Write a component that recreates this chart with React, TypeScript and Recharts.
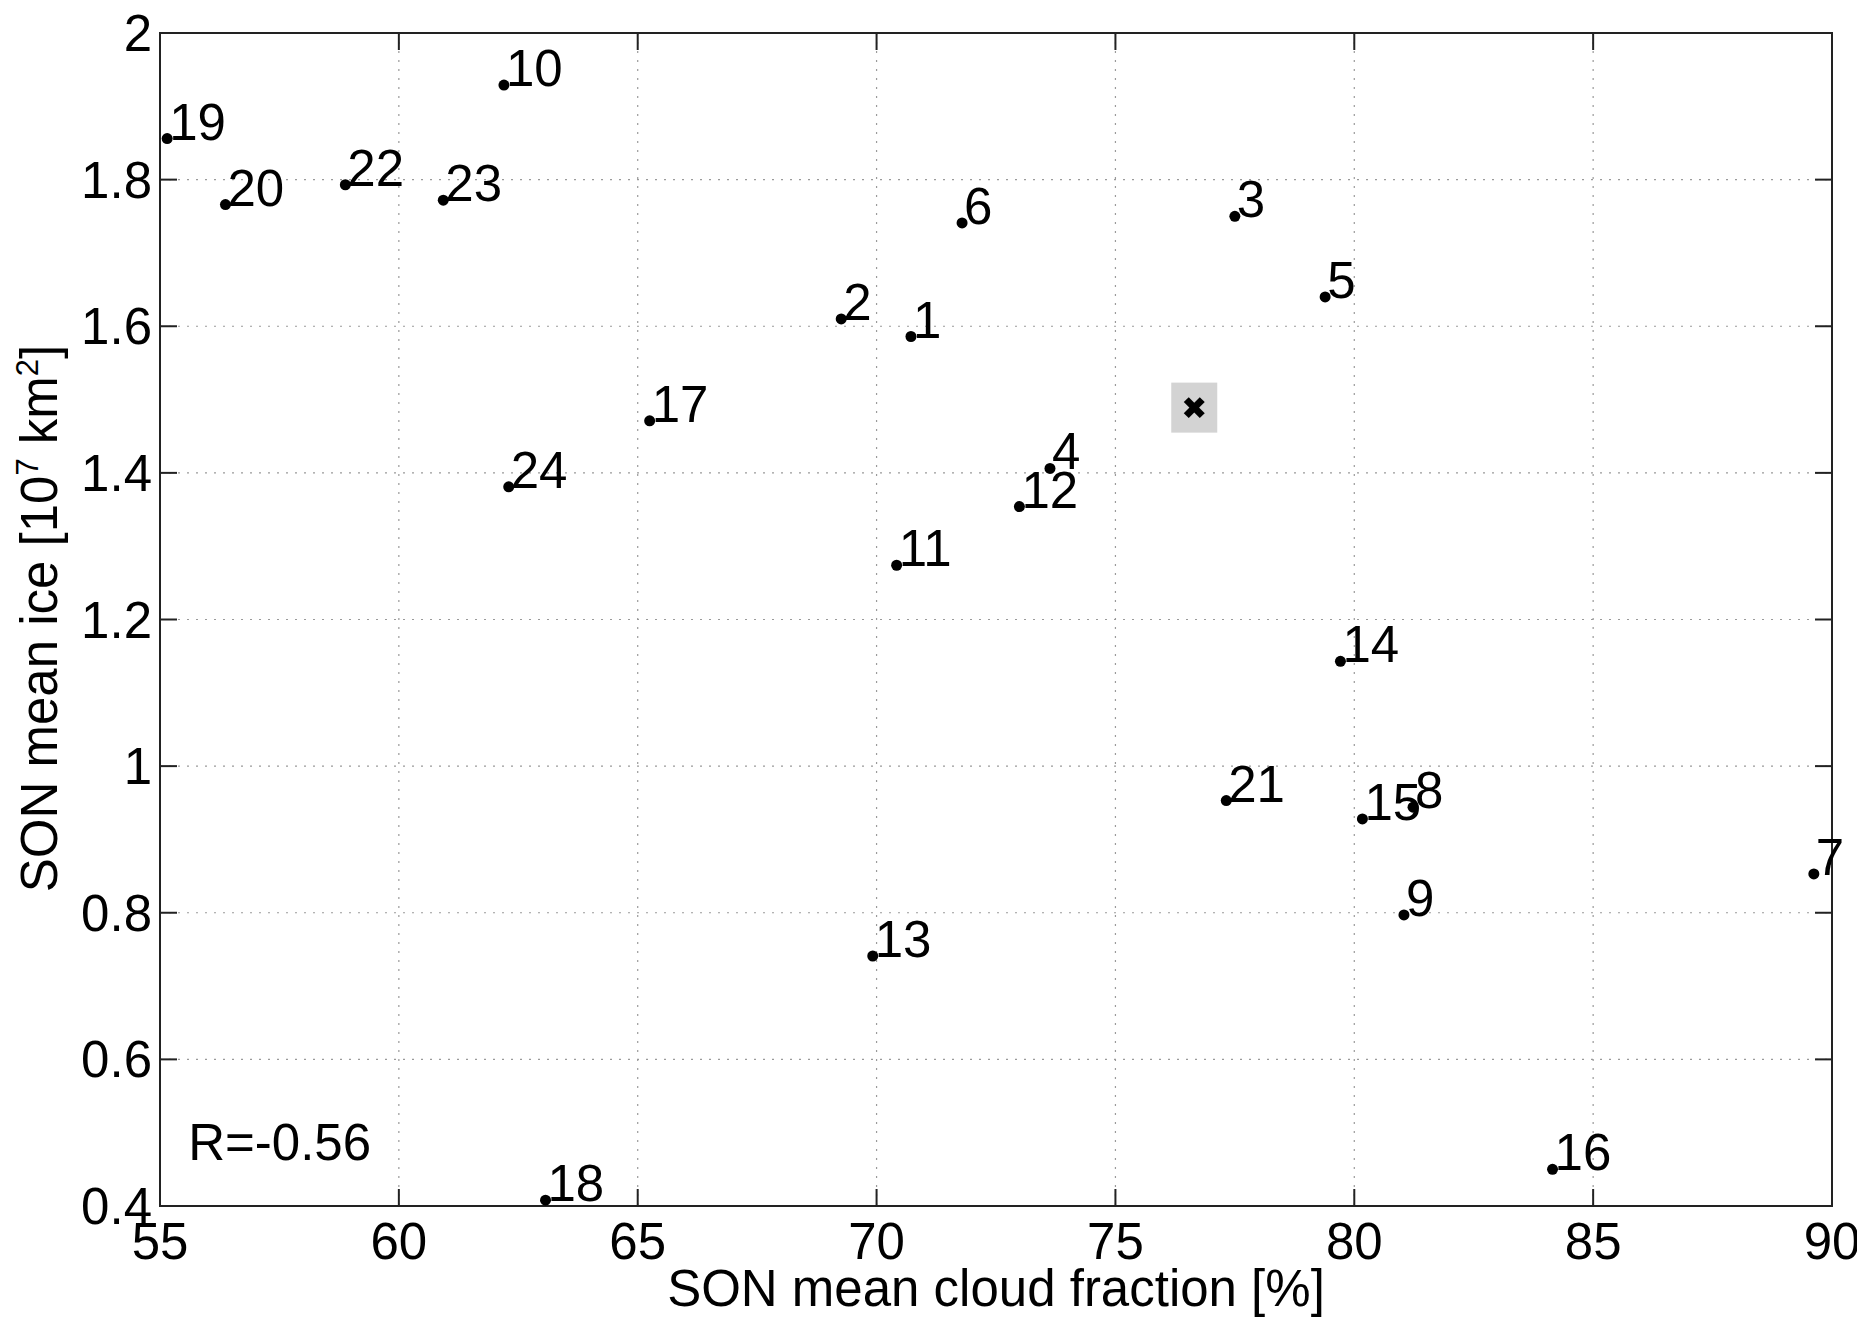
import React from "react";
import {
  CartesianGrid,
  ReferenceArea,
  Scatter,
  ScatterChart,
  XAxis,
  YAxis,
} from "recharts";

// One point per year, labelled 1..24.
const pointLabels = [
  "1", "2", "3", "4", "5", "6", "7", "8", "9", "10", "11", "12",
  "13", "14", "15", "16", "17", "18", "19", "20", "21", "22", "23", "24",
];
const cloudFraction = [
  70.72, 69.26, 77.5, 73.63, 79.39, 71.79, 89.62, 81.23, 81.04, 62.2, 70.42, 72.99,
  69.92, 79.71, 80.17, 84.15, 65.25, 63.07, 55.15, 56.37, 77.32, 58.88, 60.93, 62.3,
];
const meanIce = [
  1.586, 1.61, 1.75, 1.406, 1.64, 1.741, 0.853, 0.944, 0.797, 1.929, 1.274, 1.354,
  0.741, 1.143, 0.928, 0.45, 1.471, 0.408, 1.856, 1.766, 0.953, 1.793, 1.772, 1.381,
];

// Mean of all years (grey box with cross).
const allMeanCloud = [76.65];
const allMeanIce = [1.489];

const xTicks = [55, 60, 65, 70, 75, 80, 85, 90];
const yTicks = [0.4, 0.6, 0.8, 1, 1.2, 1.4, 1.6, 1.8, 2];

const correlationText = ["R=-0.56"];
const correlationX = [55.59];
const correlationY = [0.463];

const FONT = "'Liberation Sans', Arial, Helvetica, sans-serif";
const FS = 51;
const INK = "#000";
const AXIS = "#222";

const W = 1857;
const H = 1310;
const MARGIN = { top: 25, right: 33, bottom: 0, left: 0 };
const Y_AXIS_W = 152;
const X_AXIS_H = 112;
const PLOT_W = W - MARGIN.left - MARGIN.right - Y_AXIS_W;
const PLOT_H = H - MARGIN.top - MARGIN.bottom - X_AXIS_H;
const TICK_LEN = 17;

const points = pointLabels.map((label, i) => ({
  label,
  x: cloudFraction[i],
  y: meanIce[i],
}));
const meanPoint = allMeanCloud.map((x, i) => ({ x, y: allMeanIce[i] }));
const note = correlationText.map((text, i) => ({
  text,
  x: correlationX[i],
  y: correlationY[i],
}));

const XTick = (props: any) => {
  const { x, y, payload } = props;
  return (
    <g>
      <line x1={x} y1={y} x2={x} y2={y - TICK_LEN} stroke={AXIS} strokeWidth={2} />
      <line
        x1={x}
        y1={y - PLOT_H}
        x2={x}
        y2={y - PLOT_H + TICK_LEN}
        stroke={AXIS}
        strokeWidth={2}
      />
      <text x={x} y={y + 53} textAnchor="middle" fontSize={FS} fontFamily={FONT} fill={INK}>
        {payload.value}
      </text>
    </g>
  );
};

const YTick = (props: any) => {
  const { x, y, payload } = props;
  return (
    <g>
      <line x1={x} y1={y} x2={x + TICK_LEN} y2={y} stroke={AXIS} strokeWidth={2} />
      <line
        x1={x + PLOT_W}
        y1={y}
        x2={x + PLOT_W - TICK_LEN}
        y2={y}
        stroke={AXIS}
        strokeWidth={2}
      />
      <text x={x - 8} y={y + 18} textAnchor="end" fontSize={FS} fontFamily={FONT} fill={INK}>
        {payload.value}
      </text>
    </g>
  );
};

const XLabel = () => (
  <text
    x={MARGIN.left + Y_AXIS_W + PLOT_W / 2}
    y={MARGIN.top + PLOT_H + 100}
    textAnchor="middle"
    fontSize={FS}
    fontFamily={FONT}
    fill={INK}
  >
    SON mean cloud fraction [%]
  </text>
);

const YLabel = () => {
  const cy = MARGIN.top + PLOT_H / 2 - 1;
  return (
    <text
      transform={`translate(49,${cy}) rotate(-90)`}
      textAnchor="middle"
      fontSize={FS}
      fontFamily={FONT}
      fill={INK}
    >
      SON mean ice [10
      <tspan dy={-19} fontSize={31}>7</tspan>
      <tspan dy={19}> km</tspan>
      <tspan dy={-19} fontSize={31}>2</tspan>
      <tspan dy={19}>]</tspan>
    </text>
  );
};

const YearDot = (props: any) => {
  const { cx, cy, payload } = props;
  return (
    <g>
      <circle cx={cx} cy={cy} r={5.5} fill={INK} />
      <text x={cx + 2} y={cy + 1} fontSize={FS} fontFamily={FONT} fill={INK}>
        {payload.label}
      </text>
    </g>
  );
};

const MeanMark = (props: any) => {
  const { cx, cy } = props;
  return (
    <g>
      <rect x={cx - 23} y={cy - 25} width={46} height={50} fill="#d3d3d3" />
      <line x1={cx - 8} y1={cy - 8} x2={cx + 8} y2={cy + 8} stroke={INK} strokeWidth={7} />
      <line x1={cx - 8} y1={cy + 8} x2={cx + 8} y2={cy - 8} stroke={INK} strokeWidth={7} />
    </g>
  );
};

const NoteText = (props: any) => {
  const { cx, cy, payload } = props;
  return (
    <text x={cx} y={cy} fontSize={FS} fontFamily={FONT} fill={INK}>
      {payload.text}
    </text>
  );
};

export default function App() {
  return (
    <div style={{ width: W, height: H, background: "#fff", fontFamily: FONT }}>
      <ScatterChart width={W} height={H} margin={MARGIN}>
        <CartesianGrid stroke="#9a9a9a" strokeDasharray="2 7" strokeWidth={1.2} />
        <XAxis
          type="number"
          dataKey="x"
          domain={[55, 90]}
          ticks={xTicks}
          height={X_AXIS_H}
          axisLine={false}
          tickLine={false}
          tickSize={0}
          tickMargin={0}
          tick={<XTick />}
          interval={0}
          label={<XLabel />}
        />
        <YAxis
          type="number"
          dataKey="y"
          domain={[0.4, 2]}
          ticks={yTicks}
          width={Y_AXIS_W}
          axisLine={false}
          tickLine={false}
          tickSize={0}
          tickMargin={0}
          tick={<YTick />}
          interval={0}
          label={<YLabel />}
        />
        <ReferenceArea
          x1={55}
          x2={90}
          y1={0.4}
          y2={2}
          fill="none"
          fillOpacity={0}
          stroke={AXIS}
          strokeWidth={2}
        />
        <Scatter data={meanPoint} shape={<MeanMark />} isAnimationActive={false} />
        <Scatter data={points} shape={<YearDot />} isAnimationActive={false} />
        <Scatter data={note} shape={<NoteText />} isAnimationActive={false} />
      </ScatterChart>
    </div>
  );
}
